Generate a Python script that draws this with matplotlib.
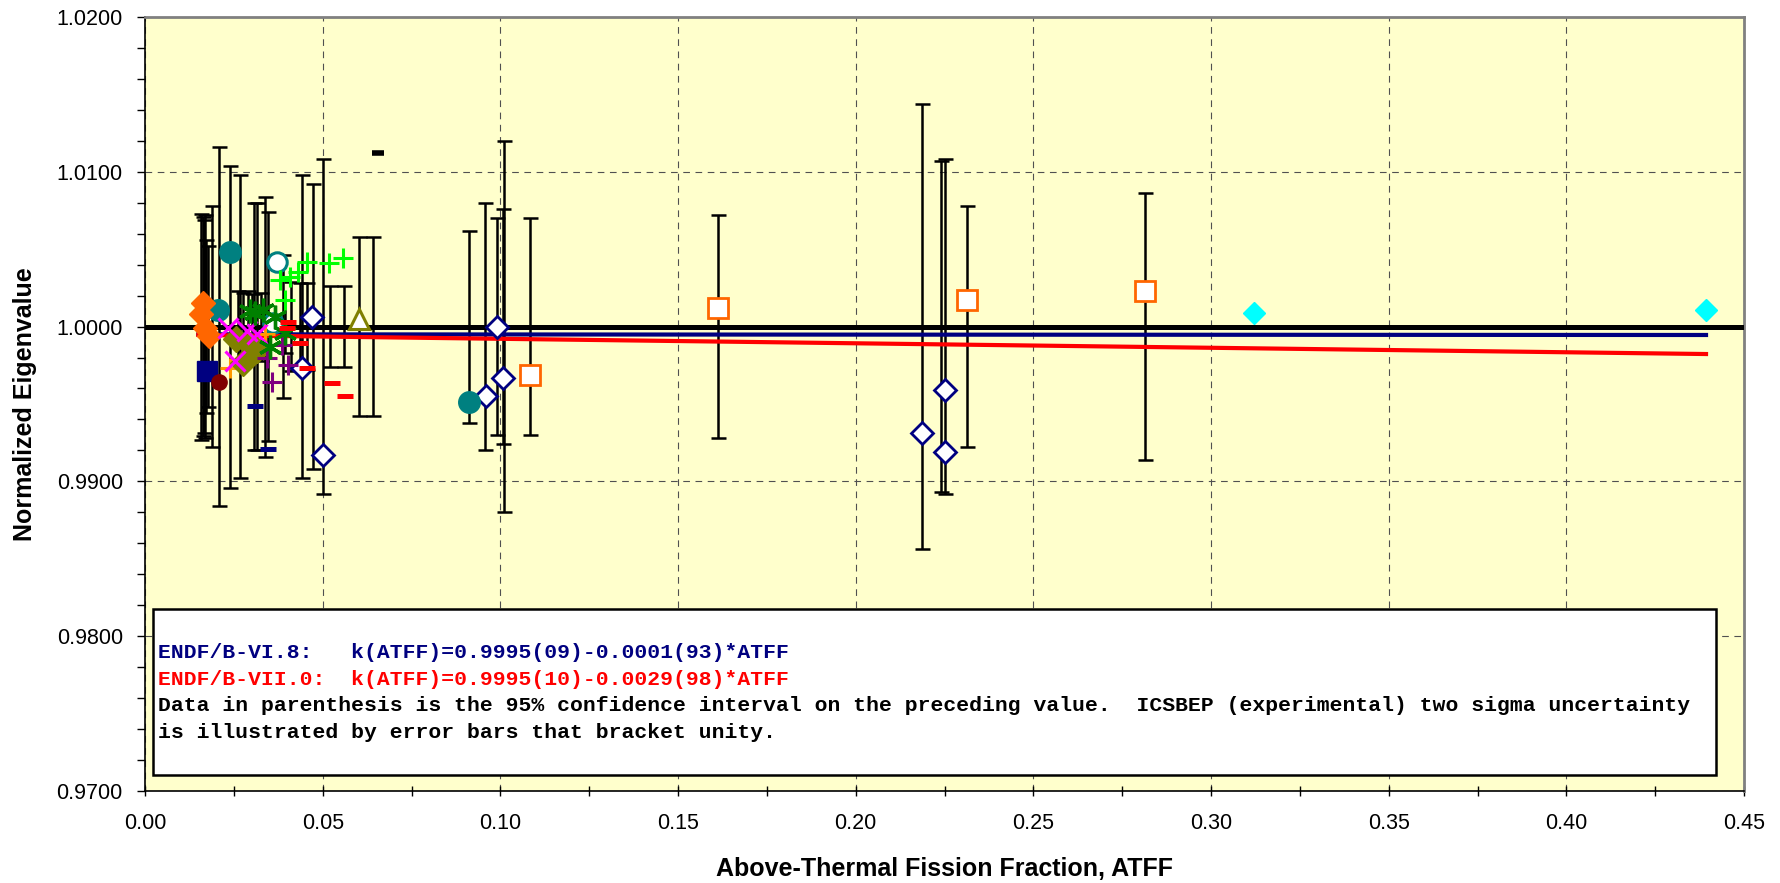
import numpy as np
import matplotlib.pyplot as plt
from matplotlib.ticker import MultipleLocator, FormatStrFormatter
from matplotlib.patches import Rectangle

plt.rcParams['font.family'] = ['Liberation Sans', 'DejaVu Sans']

# ICSBEP two-sigma error bars, centred on unity: (ATFF, half width)
bar_x = [0.0158, 0.0162, 0.0166, 0.0170, 0.0172, 0.0176, 0.0189, 0.0208,
         0.0239, 0.0267, 0.0307, 0.0316, 0.0338, 0.0346,
         0.0262, 0.0275, 0.0290, 0.0300, 0.0325, 0.0388, 0.0395, 0.0410,
         0.0436, 0.0456, 0.0521, 0.0560,
         0.0442, 0.0473, 0.0501, 0.0602, 0.0642,
         0.0912, 0.0957, 0.0990, 0.1007, 0.1010, 0.1083,
         0.1611, 0.2187, 0.2240, 0.2251, 0.2313, 0.2813]
bar_hw = [0.0073, 0.0071, 0.0069, 0.0072, 0.0056, 0.0052, 0.0078, 0.0116,
          0.0104, 0.0098, 0.0080, 0.0080, 0.0084, 0.0074,
          0.0023, 0.0022, 0.0023, 0.0021, 0.0022, 0.0046, 0.0017, 0.0029,
          0.0028, 0.0028, 0.0026, 0.0026,
          0.0098, 0.0092, 0.0108, 0.0058, 0.0058,
          0.0062, 0.0080, 0.0070, 0.0076, 0.0120, 0.0070,
          0.0072, 0.0144, 0.0107, 0.0108, 0.0078, 0.0086]

# benchmark series (ATFF, normalized eigenvalue)
sq_open_x = [0.1084, 0.1611, 0.2313, 0.2813]
sq_open_y = [0.9969, 1.0012, 1.0017, 1.0023]
cyan_x = [0.3120, 0.4393]
cyan_y = [1.0009, 1.0011]
dia_open_x = [0.0442, 0.0470, 0.0501, 0.0959, 0.0990, 0.1007, 0.2187, 0.2251, 0.2251]
dia_open_y = [0.9973, 1.0006, 0.9917, 0.9955, 1.0000, 0.9967, 0.9931, 0.9959, 0.9919]
teal_x = [0.0205, 0.0239, 0.0912]
teal_y = [1.0011, 1.0048, 0.9951]
teal_open_x = [0.0371, 0.0360]
teal_open_y = [1.0042, 1.0002]
tri_x = [0.0602]
tri_y = [1.0005]
bdash_x = [0.0656]
bdash_y = [1.0112]
odia_x = [0.0163, 0.0158, 0.0168, 0.0180]
odia_y = [1.0015, 1.0008, 0.9999, 0.9994]
nsq_x = [0.0174]
nsq_y = [0.9971]
maroon_x = [0.0208]
maroon_y = [0.9964]
oplus_x = [0.0239, 0.0338]
oplus_y = [0.9973, 0.9995]
olive_x = [0.0255, 0.0276, 0.0296, 0.0315]
olive_y = [0.9992, 0.99765, 0.9988, 0.9985]
mag_x = [0.0234, 0.0253, 0.0287, 0.0315]
mag_y = [0.9999, 0.9978, 0.9997, 0.9995]
purp_x = [0.0343, 0.0357, 0.0385, 0.0402]
purp_y = [0.9980, 0.9964, 0.9988, 0.9975]
gstar_x = [0.0296, 0.0310, 0.0332, 0.0366, 0.0394, 0.0352]
gstar_y = [1.0010, 1.0009, 1.0011, 1.0006, 0.9996, 0.9987]
lime_x = [0.0380, 0.0394, 0.0408, 0.0430, 0.0455, 0.0518, 0.0557]
lime_y = [1.0030, 1.0017, 1.0032, 1.0035, 1.0042, 1.0041, 1.0044]
rdash_x = [0.0400, 0.0402, 0.0436, 0.0456, 0.0526, 0.0563]
rdash_y = [0.9999, 1.0003, 0.99895, 0.99735, 0.99635, 0.99552]
ndash_x = [0.0310, 0.0346]
ndash_y = [0.99487, 0.99209]

# linear fits
fit_x = [0.0150, 0.4393]
b6_a, b6_b = 0.9995, -0.0001
b7_a, b7_b = 0.9995, -0.0029

note_lines = [
    ("ENDF/B-VI.8:   k(ATFF)=0.9995(09)-0.0001(93)*ATFF", '#000080'),
    ("ENDF/B-VII.0:  k(ATFF)=0.9995(10)-0.0029(98)*ATFF", '#FF0000'),
    ("Data in parenthesis is the 95% confidence interval on the preceding value.  "
     "ICSBEP (experimental) two sigma uncertainty", 'black'),
    ("is illustrated by error bars that bracket unity.", 'black'),
]

fig = plt.figure(figsize=(17.8, 8.83), dpi=100)
ax = fig.add_axes([0.0815, 0.1042, 0.8983, 0.8766])
ax.set_facecolor('#FFFFCC')

ax.errorbar(bar_x, np.ones(len(bar_x)), yerr=bar_hw, fmt='none', ecolor='black',
            elinewidth=1.8, capsize=5.4, capthick=1.8, zorder=2)
ax.axhline(1.0, color='black', lw=3.6, zorder=3)
fx = np.array(fit_x)
ax.plot(fx, b6_a + b6_b * fx, color='#000080', lw=3, zorder=3)
ax.plot(fx, b7_a + b7_b * fx, color='#FF0000', lw=3, zorder=3)

kw = dict(ls='none', zorder=4)
ax.plot(sq_open_x, sq_open_y, marker='s', ms=14, mfc='white', mec='#FF6600', mew=2, **kw)
ax.plot(cyan_x, cyan_y, marker='D', ms=11, mfc='#00FFFF', mec='#00FFFF', **kw)
ax.plot(dia_open_x, dia_open_y, marker='D', ms=11.5, mfc='white', mec='#000080', mew=2, **kw)
ax.plot(teal_x, teal_y, marker='o', ms=15.5, mfc='#008080', mec='#008080', **kw)
ax.plot(teal_open_x, teal_open_y, marker='o', ms=14, mfc='white', mec='#008080', mew=2.2, **kw)
ax.plot(tri_x, tri_y, marker='^', ms=15, mfc='white', mec='#808000', mew=2.2, **kw)
ax.plot(bdash_x, bdash_y, marker='_', ms=9, mec='black', mew=4, **kw)
ax.plot(odia_x, odia_y, marker='D', ms=12, mfc='#FF6600', mec='#FF6600', **kw)
ax.plot(nsq_x, nsq_y, marker='s', ms=15, mfc='#000080', mec='#000080', **kw)
ax.plot(maroon_x, maroon_y, marker='o', ms=11, mfc='#800000', mec='#800000', **kw)
ax.plot(oplus_x, oplus_y, marker='+', ms=15, mec='#FF9900', mew=2.2, **kw)
ax.plot(olive_x, olive_y, marker='D', ms=13, mfc='#808000', mec='#808000', **kw)
ax.plot(mag_x, mag_y, marker='x', ms=14, mec='#FF00FF', mew=2.2, **kw)
ax.plot(purp_x, purp_y, marker='+', ms=15, mec='#800080', mew=2.2, **kw)
ax.plot(gstar_x, gstar_y, marker=(6, 2, 0), ms=17, mec='#008000', mew=2.4, **kw)
ax.plot(lime_x, lime_y, marker='+', ms=15, mec='#00FF00', mew=2.2, **kw)
ax.plot(rdash_x, rdash_y, marker='_', ms=11, mec='#FF0000', mew=3.6, **kw)
ax.plot(ndash_x, ndash_y, marker='_', ms=12, mec='#000080', mew=3.6, **kw)

ax.set_xlim(0, 0.45)
ax.set_ylim(0.97, 1.02)
ax.xaxis.set_major_locator(MultipleLocator(0.05))
ax.xaxis.set_minor_locator(MultipleLocator(0.025))
ax.yaxis.set_major_locator(MultipleLocator(0.01))
ax.yaxis.set_minor_locator(MultipleLocator(0.002))
ax.xaxis.set_major_formatter(FormatStrFormatter('%.2f'))
ax.yaxis.set_major_formatter(FormatStrFormatter('%.4f'))
ax.tick_params(axis='x', which='both', direction='inout', length=7, width=1, labelsize=15.5, pad=12)
ax.tick_params(axis='y', which='both', direction='out', length=6, width=1, labelsize=15.5, pad=10)
ax.grid(True, which='major', color='#505050', ls=(0, (6, 5)), lw=0.8, zorder=1)

for s in ['top', 'right']:
    ax.spines[s].set_color('#808080')
    ax.spines[s].set_linewidth(2)
for s in ['left', 'bottom']:
    ax.spines[s].set_color('black')
    ax.spines[s].set_linewidth(1.2)

ax.set_xlabel('Above-Thermal Fission Fraction, ATFF', fontsize=18, fontweight='bold', labelpad=17)
ax.set_ylabel('Normalized Eigenvalue', fontsize=18, fontweight='bold', labelpad=14)

# annotation box
ax.add_patch(Rectangle((0.005, 0.0207), 0.9775, 0.2143, transform=ax.transAxes,
                       facecolor='white', edgecolor='black', lw=1.8, zorder=6))
for i, (txt, col) in enumerate(note_lines):
    ax.text(0.008, 0.179 - i * 0.0345, txt, transform=ax.transAxes, color=col,
            fontsize=15.4, fontweight='bold', family=['Liberation Mono', 'DejaVu Sans Mono'],
            va='center', ha='left', zorder=7)

fig.savefig('out.png', dpi=100)
